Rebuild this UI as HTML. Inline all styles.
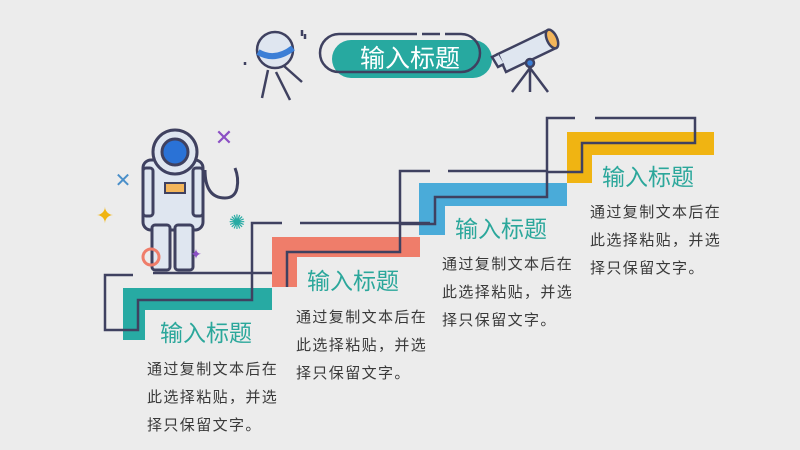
<!DOCTYPE html>
<html><head><meta charset="utf-8"><style>
html,body{margin:0;padding:0;background:#ececec;}
svg{display:block}
.t{font-family:"Liberation Sans","Noto Sans CJK SC",sans-serif;font-size:23px;fill:#2ba79b}
.b{font-family:"Liberation Sans","Noto Sans CJK SC",sans-serif;font-size:15px;fill:#3a3a3a;letter-spacing:1.4px}
</style></head><body>
<svg width="800" height="450" viewBox="0 0 800 450" xmlns="http://www.w3.org/2000/svg">
<rect width="800" height="450" fill="#ececec"/>
<path d="M123 288H272V310H145V340H123Z" fill="#27aaa3"/>
<path d="M272 237H420V257H297V287H272Z" fill="#ef7d6a"/>
<path d="M419 183H567V206H445V235H419Z" fill="#4aabd9"/>
<path d="M567 132H714V155H592V183H567Z" fill="#f0b412"/>
<g fill="none" stroke="#3f4160" stroke-width="2.5">
<path d="M133 275H105V330H138V300H252V223H282"/>
<path d="M300 223H430"/>
<path d="M153 273H272"/>
<path d="M287 287V252H400V171H430"/>
<path d="M448 171H548"/>
<path d="M400 224H435V197H547V118H575"/>
<path d="M595 118H695V143H582V172H547"/>
</g>
<rect x="332" y="40" width="160" height="38" rx="19" fill="#27a9a0"/>
<rect x="320" y="34" width="160" height="38" rx="19" fill="none" stroke="#3f4160" stroke-width="2.5" stroke-dasharray="78 5 18 5 1000"/>
<text x="410" y="67" text-anchor="middle" font-family="Liberation Sans,Noto Sans CJK SC,sans-serif" font-size="25" fill="#fff">输入标题</text>
<g stroke="#3f4160" stroke-width="2.5" fill="none">
<line x1="268" y1="70" x2="262" y2="98"/><line x1="276" y1="72" x2="290" y2="100"/><line x1="284" y1="66" x2="302" y2="82"/>
<circle cx="275" cy="50" r="18" fill="#dfe6f0"/>
<path d="M258 52Q275 62 293 48" stroke="#3c7fd6" stroke-width="6"/>
<path d="M302 30v6M305 34v5M245 62v3"/>
</g>
<g stroke="#3f4160" stroke-width="2.5" fill="none">
<line x1="530" y1="68" x2="512" y2="92"/><line x1="530" y1="68" x2="548" y2="92"/><line x1="530" y1="68" x2="530" y2="92"/>
<path d="M498 54l50-24 8 18-50 24z" fill="#dfe6f0"/>
<path d="M498 54l-6 3 6 10 6-3" fill="#dfe6f0"/>
<ellipse cx="552" cy="39" rx="5" ry="10" fill="#f3b55a" transform="rotate(-25 552 39)"/>
<circle cx="530" cy="63" r="4" fill="#3c7fd6"/>
</g>
<g stroke="#3f4160" stroke-width="3" fill="#dfe6f0">
<path d="M205 170q0 28 20 28q10 0 12-10t-2-20" fill="none"/>
<rect x="143" y="160" width="60" height="70" rx="8"/>
<rect x="152" y="225" width="18" height="45" rx="3"/>
<rect x="175" y="225" width="18" height="45" rx="3"/>
<rect x="143" y="168" width="10" height="48" rx="3"/>
<rect x="193" y="168" width="10" height="48" rx="3"/>
<circle cx="175" cy="152" r="22"/>
<circle cx="175" cy="152" r="13" fill="#2a72d6"/>
<rect x="165" y="183" width="20" height="10" fill="#f3b55a" stroke-width="2"/>
</g>
<circle cx="151" cy="257" r="8" fill="none" stroke="#ef7d6a" stroke-width="3"/>
<text x="224" y="145" text-anchor="middle" font-size="22" font-weight="bold" fill="#8b4fc4" font-family="DejaVu Sans,sans-serif">✕</text>
<text x="123" y="187" text-anchor="middle" font-size="20" font-weight="bold" fill="#4a8fc9" font-family="DejaVu Sans,sans-serif">✕</text>
<text x="105" y="223" text-anchor="middle" font-size="22" fill="#f0b412" font-family="DejaVu Sans,sans-serif">✦</text>
<text x="196" y="259" text-anchor="middle" font-size="14" fill="#8b4fc4" font-family="DejaVu Sans,sans-serif">✦</text>
<text x="237" y="229" text-anchor="middle" font-size="20" fill="#27aaa3" font-family="DejaVu Sans,sans-serif">✺</text>
<text class="t" x="160" y="341">输入标题</text>
<text class="t" x="307" y="289">输入标题</text>
<text class="t" x="455" y="237">输入标题</text>
<text class="t" x="602" y="185">输入标题</text>
<g class="b">
<text x="147" y="374">通过复制文本后在</text><text x="147" y="402">此选择粘贴，并选</text><text x="147" y="430">择只保留文字。</text>
<text x="296" y="322">通过复制文本后在</text><text x="296" y="350">此选择粘贴，并选</text><text x="296" y="378">择只保留文字。</text>
<text x="442" y="269">通过复制文本后在</text><text x="442" y="297">此选择粘贴，并选</text><text x="442" y="325">择只保留文字。</text>
<text x="590" y="217">通过复制文本后在</text><text x="590" y="245">此选择粘贴，并选</text><text x="590" y="273">择只保留文字。</text>
</g>
</svg>
</body></html>
